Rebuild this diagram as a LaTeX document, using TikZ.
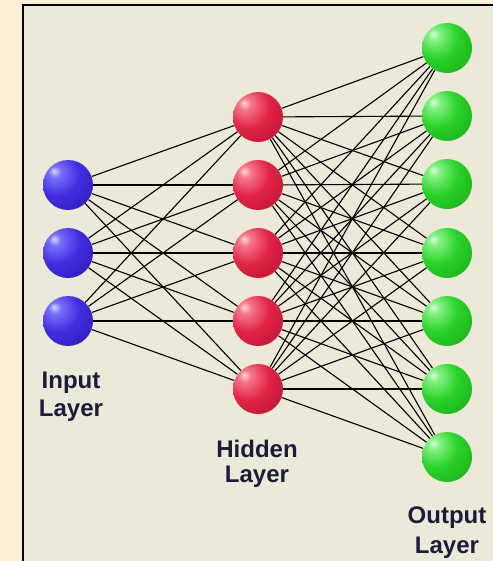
\documentclass[tikz,border=0pt]{standalone}
\usepackage{fontspec}
\setmainfont{Liberation Sans}
\usetikzlibrary{backgrounds}
\definecolor{outerbg}{HTML}{FBEDD6}
\definecolor{panel}{HTML}{ECE9D8}
\definecolor{txt}{HTML}{1C1C3A}
\pgfdeclareradialshading{blueball}{\pgfpoint{-14bp}{14bp}}{%
  color(0bp)=(white!85!blue); color(6bp)=(rgb,255:red,120;green,110;blue,250);
  color(22bp)=(rgb,255:red,65;green,45;blue,225); color(45bp)=(rgb,255:red,45;green,25;blue,175);
  color(60bp)=(rgb,255:red,30;green,15;blue,120); color(100bp)=(rgb,255:red,30;green,15;blue,120)}
\pgfdeclareradialshading{redball}{\pgfpoint{-14bp}{14bp}}{%
  color(0bp)=(white!85!red); color(6bp)=(rgb,255:red,245;green,120;blue,140);
  color(22bp)=(rgb,255:red,225;green,35;blue,70); color(45bp)=(rgb,255:red,185;green,20;blue,50);
  color(60bp)=(rgb,255:red,120;green,10;blue,30); color(100bp)=(rgb,255:red,120;green,10;blue,30)}
\pgfdeclareradialshading{greenball}{\pgfpoint{-14bp}{14bp}}{%
  color(0bp)=(white!85!green); color(6bp)=(rgb,255:red,130;green,240;blue,130);
  color(22bp)=(rgb,255:red,40;green,210;blue,40); color(45bp)=(rgb,255:red,25;green,170;blue,25);
  color(60bp)=(rgb,255:red,15;green,110;blue,15); color(100bp)=(rgb,255:red,15;green,110;blue,15)}
\begin{document}
\begin{tikzpicture}[x=1pt,y=-1pt,
  neuron/.style={circle,minimum size=50pt,inner sep=0pt},
  inneuron/.style={neuron,shading=blueball},
  hidneuron/.style={neuron,shading=redball},
  outneuron/.style={neuron,shading=greenball},
  link/.style={black,line width=1.1pt},
  lbl/.style={anchor=base,text=txt,font=\fontsize{24}{28}\selectfont\bfseries,inner sep=0pt}]
\useasboundingbox (0,0) rectangle (492,561);
% neurons
\foreach \k/\y in {1/185,2/253,3/321}
  \node[inneuron] (i\k) at (68,\y) {};
\foreach \k/\y in {1/117,2/185,3/253,4/321,5/389}
  \node[hidneuron] (h\k) at (258,\y) {};
\foreach \k/\y in {1/48,2/116,3/184,4/253,5/321,6/389,7/457}
  \node[outneuron] (o\k) at (447,\y) {};
\begin{scope}[on background layer]
  \fill[outerbg] (0,0) rectangle (492,561);
  \fill[panel] (23,5) rectangle (494,563);
  \draw[black,line width=2pt] (23,563) -- (23,5) -- (494,5);
  \foreach \a in {1,2,3}
    \foreach \b in {1,...,5}
      \draw[link] (i\a) -- (h\b);
  \foreach \a in {1,...,5}
    \foreach \b in {1,...,7}
      \draw[link] (h\a) -- (o\b);
\end{scope}
% labels
\node[lbl] (inl1) at (71,388) {Input};
\node[lbl] (inl2) at (71,416) {Layer};
\node[lbl] (hil1) at (257,457) {Hidden};
\node[lbl] (hil2) at (257,482) {Layer};
\node[lbl] (oul1) at (447,523) {Output};
\node[lbl] (oul2) at (447,553) {Layer};
\end{tikzpicture}
\end{document}
